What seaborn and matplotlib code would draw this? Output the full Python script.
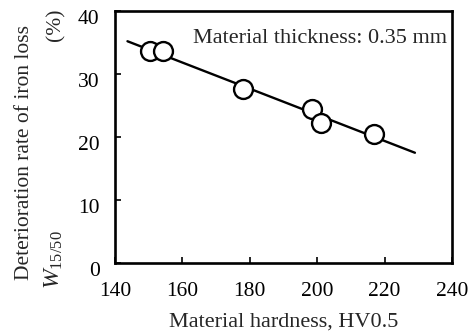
import numpy as np
import pandas as pd
import matplotlib
matplotlib.use("Agg")
import matplotlib.pyplot as plt
import matplotlib.transforms as mtransforms
import seaborn as sns

# Measured samples: hardness vs. deterioration of iron loss
hardness = [150.3, 154.3, 177.9, 198.4, 201.1, 217.0]
deterioration = [33.6, 33.6, 27.6, 24.5, 22.3, 20.4]

# Trend line drawn through the samples
trend_hardness = [143.7, 229.0]
trend_deterioration = [35.2, 17.5]

x_ticks = [140, 160, 180, 200, 220, 240]
y_ticks = [0, 10, 20, 30, 40]

sns.set_theme(style="ticks")
plt.rcParams["font.family"] = ["Liberation Serif", "DejaVu Serif"]
plt.rcParams["mathtext.fontset"] = "custom"
plt.rcParams["mathtext.rm"] = "Liberation Serif"
plt.rcParams["mathtext.it"] = "Liberation Serif:italic"

W, H = 473, 331
fig = plt.figure(figsize=(W / 100, H / 100), dpi=100)
ax = fig.add_axes([115 / W, 1 - 263 / H, (452 - 115) / W, (263 - 11) / H])

df = pd.DataFrame({"hardness": hardness, "deterioration": deterioration})
trend = pd.DataFrame({"hardness": trend_hardness, "deterioration": trend_deterioration})

sns.lineplot(data=trend, x="hardness", y="deterioration", ax=ax,
             color="black", linewidth=1.7, zorder=2)
sns.scatterplot(data=df, x="hardness", y="deterioration", ax=ax,
                s=185, facecolor="white", edgecolor="black", linewidth=1.7,
                zorder=3)

ax.set_xlim(140, 240)
ax.set_ylim(0, 40)
ax.set_xticks(x_ticks)
ax.set_yticks(y_ticks)
ax.tick_params(axis="both", direction="in", length=4.5, width=1.2,
               labelsize=15.5, colors="black")
ax.tick_params(axis="x", pad=14)
ax.tick_params(axis="y", pad=11)
for lbl in ax.get_yticklabels():
    lbl.set_transform(lbl.get_transform() +
                      mtransforms.ScaledTranslation(0, -4.3 / 72, fig.dpi_scale_trans))
for sp in ax.spines.values():
    sp.set_visible(True)
    sp.set_linewidth(1.9)
    sp.set_color("black")

ax.set_xlabel("Material hardness, HV0.5", fontsize=16, labelpad=8)
ax.set_ylabel("")

ax.text(238.6, 35.7, "Material thickness: 0.35 mm", ha="right", va="center",
        fontsize=16)

fig.text(25 / W, 1 - 153 / H, "Deterioration rate of iron loss",
         rotation=90, ha="center", va="center", fontsize=15.5)
fig.text(56 / W, 1 - 25 / H, "(%)", rotation=90, ha="center", va="center",
         fontsize=15.5)
fig.text(54 / W, 1 - 260 / H, r"$W_{\mathrm{15/50}}$", rotation=90,
         ha="center", va="center", fontsize=17)

fig.savefig("out.png", dpi=100)
